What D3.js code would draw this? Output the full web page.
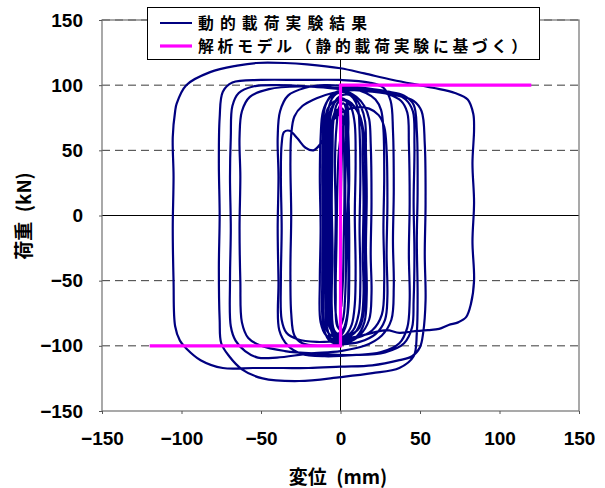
<!DOCTYPE html>
<html>
<head>
<meta charset="utf-8">
<script src="https://cdn.jsdelivr.net/npm/d3@7"></script>
<style>
  html, body { margin: 0; padding: 0; background: #fff; }
  svg { display: block; }
</style>
</head>
<body>
<svg id="chart" width="605" height="488"></svg>
<script>
// Axis ticks
const xTicks = [-150, -100, -50, 0, 50, 100, 150];
const yTicks = [-150, -100, -50, 0, 50, 100, 150];

// Analysis model (bilinear, rigid–plastic), displacement mm / load kN
const modelDisp = [-120, 0, 0, 120];
const modelLoad = [-100, -100, 100, 100];

// Dynamic loading test record, [displacement mm, load kN], in time order
const smallCycles = [
  [0,-20],[0.5,30],[1.5,66],[2.5,78],[3.5,62],[3,20],[3.5,-20],[3,-60],[1.5,-80],[-1,-86],
  [-3,-75],[-3.5,-40],[-3,0],[-3.5,40],[-2.5,68],[-0.5,84],[2,86],[4,78],[5,60],[5.5,30],[5,0],
  [5.5,-40],[5,-70],[3,-86],[0,-92],[-4,-88],[-5.5,-70],[-5,-30],[-5.5,10],[-5,50],[-4.5,72]
];
const cycleA = [
  [-2,86],[2,89],[7,86],[11,79],[13.5,68],[14,45],[14.5,10],[14,-30],[14.5,-60],[13,-80],[9,-90],
  [3,-94],[-3,-95],[-6.5,-85],[-7.5,-50],[-7,-10],[-7.5,30],[-7,60],[-6,78]
];
const cycleB = [
  [-2,90],[4,93],[9,90],[13,83],[15.5,72],[16,50],[16.5,15],[16,-25],[16.5,-60],[15,-82],[10,-93],
  [2,-97],[-5,-96],[-8.5,-86],[-9.5,-50],[-9,-10],[-9.5,30],[-9,62],[-8,80]
];
const cycleC = [
  [-4,92],[3,95],[10,91],[15,84],[18,74],[19,55],[19.5,10],[19,-30],[19.5,-60],[18,-80],[12,-92],
  [3,-98],[-6,-97],[-10.5,-87],[-11.5,-50],[-11,-10],[-11.5,30],[-11,62],[-10,82]
];
const cycleD = [
  [-6,92],[0,96],[8,97],[16,94],[22,89],[25.5,81],[27,66],[27.5,30],[27,-10],[27.5,-50],[26,-76],
  [20,-88],[10,-94],[0,-96],[-15,-97],[-27,-95],[-34,-90],[-37,-80],[-37.5,-50],[-37,-10],
  [-37.5,30],[-37,55],[-35.5,64],[-32,65],[-27,59],[-22,52],[-17,50],[-12,56],[-8,66],
  [-4,74],[2,80],[10,83],[18,82],[24,77],[27.5,68],[29,50],[29.5,10],[29,-30],[29.5,-62],
  [28,-80],[22,-91],[12,-97],[0,-99],[-14,-100],[-24,-98],[-29,-92],[-31,-75],[-31.5,-40],
  [-31,0],[-31.5,40],[-31,62],[-29,76],[-24,84],[-15,90],[-5,94]
];
const cycleE = [
  [5,96],[18,96],[30,93],[38,88],[42,79],[43,55],[43.5,10],[43,-30],[43.5,-65],[42,-86],
  [37,-98],[25,-105],[10,-107],[-10,-108],[-25,-106],[-33,-100],[-38.5,-88],[-39,-50],
  [-39.5,-10],[-39,30],[-39.5,60],[-38,80],[-33,92],[-22,98],[-10,100],[5,99]
];
const cycleF = [
  [20,97],[33,94],[41,89],[45.5,80],[46.5,55],[46,10],[46.5,-30],[46,-65],[45,-86],[40,-98],
  [28,-105],[10,-107],[-15,-106],[-35,-104],[-50,-100],[-58,-94],[-62,-82],[-63,-50],
  [-63.5,-10],[-63,30],[-63.5,60],[-62,80],[-57,91],[-45,97],[-25,99],[-5,98]
];
const cycleG = [
  [15,97],[30,95],[40,92],[46,85],[48,65],[48.5,20],[48,-20],[48.5,-60],[48,-90],[46,-108],
  [37,-117],[20,-121],[0,-124],[-26,-127],[-49,-125],[-62,-118],[-70,-108],[-75,-98],
  [-76,-80],[-76.5,-40],[-76,0],[-76.5,40],[-76,75],[-74,95],[-68,102],[-50,104],[-25,104],
  [0,104],[18,102],[27,98],[31.5,88],[33,65],[33.5,20],[33,-20],[33.5,-55],[32,-80],[26,-92],
  [15,-100],[0,-104],[-20,-106],[-40,-109],[-52,-109],[-60,-104],[-66,-96],[-69,-85],
  [-69.5,-50],[-69,-10],[-69.5,30],[-69,60],[-68,84],[-64,94],[-55,99],[-40,100],[-20,99],
  [0,97],[20,95],[36,92],[46,88],[51,80]
];
const cycleH = [
  [53,55],[53.5,10],[53,-30],[53.5,-65],[52,-90],[50,-101],[45,-108],[37,-111],[20,-115],
  [0,-116],[-20,-117],[-36,-117],[-55,-117],[-74,-117],[-88,-111],[-97,-102],[-101,-96],
  [-104,-85],[-105,-50],[-105.5,-10],[-105,30],[-105.5,60],[-104,80],[-103,86],[-97,100],
  [-82,110],[-65,115],[-53,117],[-35,117],[-21,116],[0,113],[15,109],[33,104],[58,98],
  [72,94],[80,89],[83.5,78],[84,66],[83,40],[84,10],[83,-20],[84,-50],[82,-68],[79,-78],
  [74,-82],[68,-84],[62,-87],[55,-88],[45,-89],[37,-90],[29,-88],[20,-90]
];
const cycleTail = [
  [10,-93],[2,-94],[-6,-92],[-10,-84],[-10.5,-40],[-10,0],[-10.5,40],[-10,68],[-8,82],
  [-3,88],[3,88],[8,84],[12,77],[14.5,64],[15.5,40],[15,0],[15.5,-40],[15,-70],[12,-86],[5,-92],
  [-3,-92],[-7,-84],[-7.5,-40],[-7,0],[-7.5,40],[-6,68],[-3,80],[1,82],[3.5,74],[4.5,60],
  [5,30],[4.5,-10],[5,-50],[4,-78],[1,-88],[-2,-85],[-3,-60],[-2.5,-20],[-2,20],[-1,50],
  [1,66],[3,74],[4,88],[5,72],[4.5,52]
];
const cycleEnd = [
  [5,20],[5.5,-20],[5,-60],[3.5,-82],[0,-90],[-4,-90],[-8,-82],[-8.5,-50],[-8,-10],[-8.5,30],
  [-8,60],[-7,78],[-4,86],[0,90],[4,88],[7,82],[9,70],[9.5,40],[9,0],[9.5,-40],[9,-68],
  [7,-84],[3,-92],[-2,-95],[-9,-92],[-12.5,-82],[-13,-50],[-12.5,-10],[-13,30],[-12.5,60],
  [-11,80],[-7,90],[-1,95],[4,94],[8,90],[11,82],[12,65],[12.5,30],[12,-10],[12.5,-50],
  [11.5,-75],[8,-88],[2,-93],[-4,-92],[-6,-84],[-6.5,-50],[-6,-10],[-6.5,30],[-5.5,60],
  [-4,75],[-1,80],[1,76],[2,60],[2.5,20],[2,-20],[1.5,-50],[0.5,-70]
];

const testRecord = [].concat(smallCycles, cycleA, cycleB, cycleC, cycleD, cycleE,
  cycleF, cycleG, cycleH, cycleTail, cycleEnd);

const legendLabels = ["動的載荷実験結果", "解析モデル（静的載荷実験に基づく）"];

const svg = d3.select("#chart");
const x = d3.scaleLinear().domain([-150, 150]).range([102, 579]);
const y = d3.scaleLinear().domain([-150, 150]).range([411, 20]);

const numFont = "'Liberation Sans', Arial, sans-serif";
const jpFont = "'Noto Sans CJK JP', 'Noto Sans CJK SC', sans-serif";

// dashed gridlines
svg.append("g").selectAll("line")
  .data(yTicks.filter(d => d !== 0 && d !== -150))
  .join("line")
  .attr("x1", x(-150)).attr("x2", x(150))
  .attr("y1", d => y(d)).attr("y2", d => y(d))
  .attr("stroke", "#3a3a3a").attr("stroke-width", 1)
  .attr("stroke-dasharray", "8,5");

// zero axes
svg.append("line")
  .attr("x1", x(-150)).attr("x2", x(150)).attr("y1", y(0)).attr("y2", y(0))
  .attr("stroke", "#000").attr("stroke-width", 1);
svg.append("line")
  .attr("x1", x(0)).attr("x2", x(0)).attr("y1", y(-150)).attr("y2", y(150))
  .attr("stroke", "#000").attr("stroke-width", 1);

// test hysteresis
const line = d3.line()
  .x(d => x(d[0])).y(d => y(d[1]))
  .curve(d3.curveCatmullRom.alpha(0.5));
svg.append("path")
  .datum(testRecord)
  .attr("d", line)
  .attr("fill", "none")
  .attr("stroke", "#000080")
  .attr("stroke-width", 2.2)
  .attr("stroke-linejoin", "round");

// analysis model
const modelPts = modelDisp.map((d, i) => [d, modelLoad[i]]);
svg.append("path")
  .datum(modelPts)
  .attr("d", d3.line().x(d => x(d[0])).y(d => y(d[1])))
  .attr("fill", "none")
  .attr("stroke", "#ff00ff")
  .attr("stroke-width", 3.2);

// plot frame
svg.append("rect")
  .attr("x", x(-150)).attr("y", y(150))
  .attr("width", x(150) - x(-150)).attr("height", y(-150) - y(150))
  .attr("fill", "none").attr("stroke", "#707070").attr("stroke-width", 1.2);

// axes (labels outside the frame)
const yAxis = d3.axisLeft(y).tickValues(yTicks).tickSize(3).tickPadding(16);
const gy = svg.append("g").attr("transform", `translate(${x(-150)},0)`).call(yAxis);
const xAxis = d3.axisBottom(x).tickValues(xTicks).tickSize(3).tickPadding(18);
const gx = svg.append("g").attr("transform", `translate(0,${y(-150)})`).call(xAxis);
[gx, gy].forEach(g => {
  g.select(".domain").remove();
  g.selectAll(".tick line").attr("stroke", "#555");
  g.selectAll(".tick text")
    .attr("font-family", numFont).attr("font-weight", "bold")
    .attr("font-size", 19).attr("fill", "#000");
});

// axis titles
svg.append("text")
  .attr("x", 338).attr("y", 484)
  .attr("text-anchor", "middle")
  .attr("font-family", jpFont).attr("font-weight", "bold").attr("font-size", 19)
  .text("変位\u2002(mm)");
svg.append("text")
  .attr("transform", "translate(31,216) rotate(-90)")
  .attr("text-anchor", "middle")
  .attr("font-family", jpFont).attr("font-weight", "bold").attr("font-size", 19)
  .text("荷重\u2002(kN)");

// legend
const lg = svg.append("g");
lg.append("rect")
  .attr("x", 147.5).attr("y", 7.5).attr("width", 392).attr("height", 52)
  .attr("fill", "#fff").attr("stroke", "#000").attr("stroke-width", 1);
const legendColors = ["#000080", "#ff00ff"];
const legendWidths = [2, 3.2];
const legendTextLen = [169, 329];
legendLabels.forEach((label, i) => {
  const cy = 23 + i * 23;
  lg.append("line")
    .attr("x1", 160).attr("x2", 192).attr("y1", cy).attr("y2", cy)
    .attr("stroke", legendColors[i]).attr("stroke-width", legendWidths[i]);
  lg.append("text")
    .attr("x", 198).attr("y", cy + 6)
    .attr("font-family", jpFont).attr("font-weight", "bold").attr("font-size", 15.8)
    .attr("textLength", legendTextLen[i]).attr("lengthAdjust", "spacing")
    .text(label);
});
</script>
</body>
</html>
